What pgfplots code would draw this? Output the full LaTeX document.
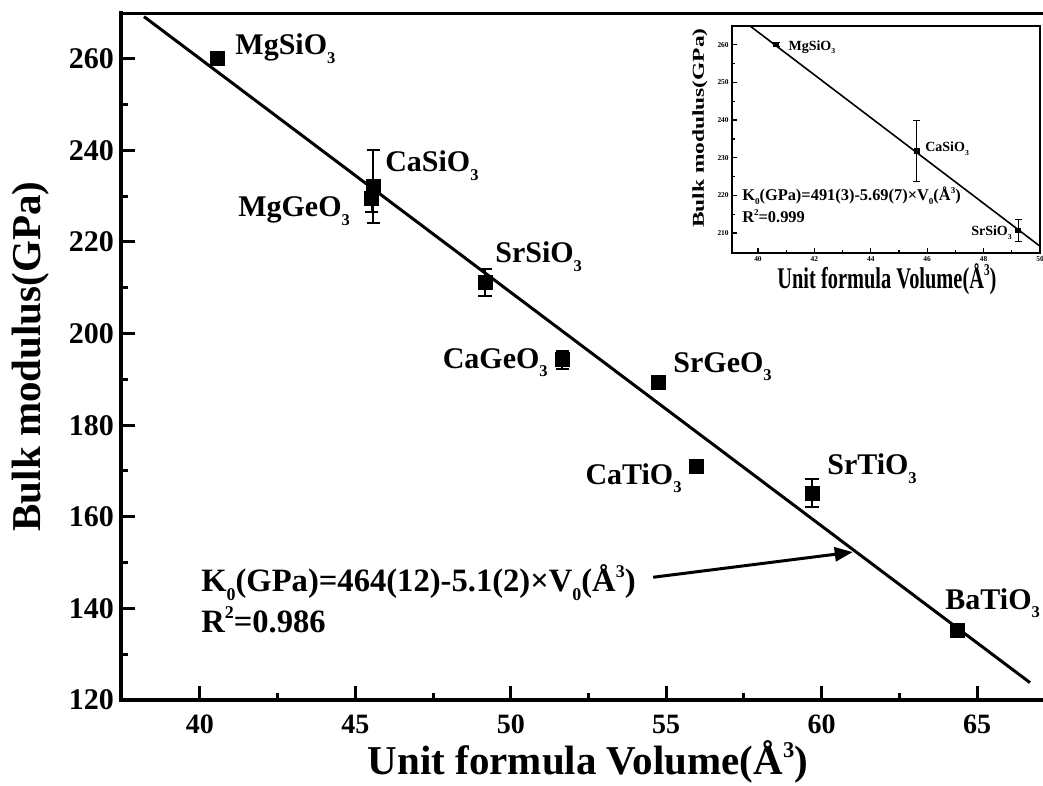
\documentclass[border=0pt]{standalone}
\usepackage{pgfplots}
\pgfplotsset{compat=1.18}
\usepackage{pgfplotstable}
\usepackage{graphicx}
\usepackage{fontspec}
\setmainfont{Liberation Serif}
\usetikzlibrary{arrows.meta}

\newcommand{\fs}[1]{\fontsize{#1}{#1}\selectfont\bfseries}
\newcommand{\sub}[1]{\raisebox{-0.28em}{\scalebox{0.55}{#1}}}
\newcommand{\sups}[1]{\raisebox{0.42em}{\scalebox{0.55}{#1}}}

\pgfplotstableread{
x y e
40.56 260.1 1
45.57 232.1 8
45.53 229.6 3
49.17 211.1 3
51.65 194.3 2
54.74 189.3 0
55.96 171.1 0
59.69 165.2 3
64.36 135.1 0
}\maindata

\pgfplotstableread{
x y e
40.64 260.1 0.6
45.63 231.8 8
49.22 210.7 3
}\insetdata

\begin{document}
\begin{tikzpicture}
\useasboundingbox (-60.5pt,-43pt) rectangle (461pt,350pt);
\begin{axis}[
  at={(0pt,0pt)}, anchor=south west,
  scale only axis, width=461pt, height=343.5pt,
  xmin=37.46, xmax=67.12, ymin=120, ymax=270,
  axis lines*=left,
  axis line style={line width=2pt, line cap=rect},
  xtick={40,45,...,65}, ytick={120,140,...,260},
  minor x tick num=1, minor y tick num=1,
  tick align=inside,
  major tick length=6.8pt, minor tick length=3.3pt,
  every tick/.style={black, line width=1.5pt},
  /pgf/number format/assume math mode=true,
  xticklabel style={font=\fs{14}, yshift=-4pt},
  yticklabel style={font=\fs{15}},
  xlabel={Unit formula Volume(Å\sups{3})},
  ylabel={Bulk modulus(GPa)},
  label style={font=\fs{20.5}},
  xlabel style={at={(axis description cs:0.5065,-0.109)}, anchor=base},
  ylabel style={at={(axis description cs:-0.0976,0.5)}, anchor=center},
]
\draw[line width=2pt, line cap=rect] (rel axis cs:0,1) -- (rel axis cs:1,1);
\addplot[black, line width=1.5pt] coordinates {(38.2,269.2) (66.7,123.8)};
\addplot[only marks, mark=square*, mark size=3.5pt, black,
  error bars/.cd, y dir=both, y explicit,
  error bar style={line width=1pt, black},
  error mark options={black, rotate=90, mark size=3.3pt, line width=1pt}]
  table[x=x, y=y, y error=e] {\maindata};

\begin{scope}[every node/.style={inner sep=0pt, font=\fs{15}}]
\node[anchor=base west] at (axis cs:41.13,260.9) {MgSiO\sub{3}};
\node[anchor=base west] at (axis cs:45.95,235.3) {CaSiO\sub{3}};
\node[anchor=base west] at (axis cs:41.22,225.5) {MgGeO\sub{3}};
\node[anchor=base west] at (axis cs:49.49,215.5) {SrSiO\sub{3}};
\node[anchor=base east] at (axis cs:51.2,192.4) {CaGeO\sub{3}};
\node[anchor=base west] at (axis cs:55.22,191.5) {SrGeO\sub{3}};
\node[anchor=base west] at (axis cs:52.39,167.1) {CaTiO\sub{3}};
\node[anchor=base west] at (axis cs:60.17,169.2) {SrTiO\sub{3}};
\node[anchor=base west] at (axis cs:63.97,139.8) {BaTiO\sub{3}};
\end{scope}

\node[anchor=base west, font=\fs{16.3}, inner sep=0pt] at (axis cs:40.03,143.7) {K\sub{0}(GPa)=464(12)-5.1(2)×V\sub{0}(Å\sups{3})};
\node[anchor=base west, font=\fs{16.3}, inner sep=0pt] at (axis cs:40.03,134.8) {R\sups{2}=0.986};
\draw[line width=1.5pt, -{Triangle[length=9pt,width=7pt]}] (axis cs:54.58,146.8) -- (axis cs:61.0,152.3);
\end{axis}

\begin{axis}[
  at={(305.5pt,223.5pt)}, anchor=south west,
  scale only axis, width=154pt, height=113.5pt,
  xmin=39.08, xmax=50, ymin=204.7, ymax=265,
  axis background/.style={fill=white},
  axis line style={line width=1pt},
  xtick={40,42,...,50}, ytick={210,220,...,260},
  minor x tick num=1, minor y tick num=1,
  xtick pos=left, ytick pos=left,
  tick align=inside,
  major tick length=2.5pt, minor tick length=1.5pt,
  every tick/.style={black, line width=0.6pt},
  /pgf/number format/assume math mode=true,
  ticklabel style={font=\fs{3.7}, inner sep=1.5pt},
  xlabel={\scalebox{0.68}[1]{\fs{15}Unit formula Volume(Å\sups{3})}},
  ylabel={\scalebox{1}[0.71]{\fs{11.7}Bulk modulus(GPa)}},
  xlabel style={at={(axis description cs:0.503,-0.155)}, anchor=base, inner sep=0pt},
  ylabel style={at={(axis description cs:-0.104,0.55)}, anchor=center, inner sep=0pt},
]
\addplot[black, line width=0.8pt] coordinates {(39.72,265) (50,206.5)};
\addplot[only marks, mark=square*, mark size=1.2pt, black,
  error bars/.cd, y dir=both, y explicit,
  error bar style={line width=0.5pt, black},
  error mark options={black, rotate=90, mark size=1.75pt, line width=0.5pt}]
  table[x=x, y=y, y error=e] {\insetdata};
\node[anchor=base west, font=\fs{7}, inner sep=0pt] at (axis cs:41.07,258.6) {MgSiO\sub{3}};
\node[anchor=base west, font=\fs{7}, inner sep=0pt] at (axis cs:45.92,231.6) {CaSiO\sub{3}};
\node[anchor=base east, font=\fs{7}, inner sep=0pt] at (axis cs:49.01,209.4) {SrSiO\sub{3}};
\node[anchor=base west, font=\fs{8.2}, inner sep=0pt] at (axis cs:39.43,218.7) {K\sub{0}(GPa)=491(3)-5.69(7)×V\sub{0}(Å\sups{3})};
\node[anchor=base west, font=\fs{8.2}, inner sep=0pt] at (axis cs:39.43,212.7) {R\sups{2}=0.999};
\end{axis}
\end{tikzpicture}
\end{document}
